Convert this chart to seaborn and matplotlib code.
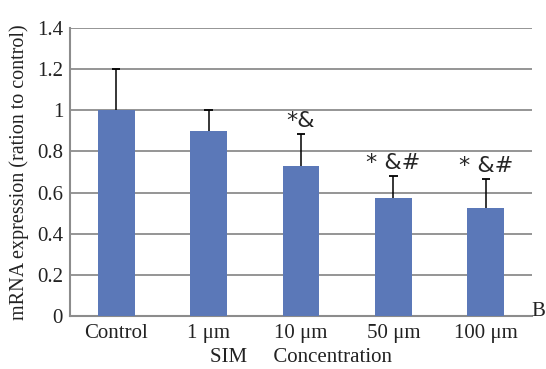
import matplotlib
matplotlib.use("Agg")
import matplotlib.pyplot as plt
import seaborn as sns
import pandas as pd

groups = ["Control", "1 μm", "10 μm", "50 μm", "100 μm"]
expression = [1.0, 0.90, 0.73, 0.575, 0.525]
errors = [0.20, 0.10, 0.155, 0.105, 0.14]
marks = ["", "", "*&", "* &#", "* &#"]

sns.set_style("white")
plt.rcParams['font.family'] = ['Liberation Serif', 'Noto Sans CJK SC']

df = pd.DataFrame({"group": groups, "value": expression})

fig = plt.figure(figsize=(5.46, 3.69), dpi=100)
ax = fig.add_axes([70 / 546, 1 - 316 / 369, 462 / 546, 288 / 369])

sns.barplot(data=df, x="group", y="value", color="#5b78b8", saturation=1,
            width=0.4, linewidth=0, ax=ax, zorder=3)

# upper error bars only, like the original
xs = list(range(len(groups)))
tops = [v + e for v, e in zip(expression, errors)]
ax.vlines(xs, expression, tops, color="black", linewidth=1.1, zorder=4)
ax.hlines(tops, [x - 0.045 for x in xs], [x + 0.045 for x in xs],
          color="black", linewidth=1.3, zorder=4)

# significance marks above the error bars
for i, (t, m) in enumerate(zip(tops, marks)):
    if m:
        ax.text(i, t + 0.015, m, ha="center", va="bottom", fontsize=16,
                family=['DejaVu Sans'])

ax.set_ylim(0, 1.4)
ax.set_yticks([0, 0.2, 0.4, 0.6, 0.8, 1.0, 1.2, 1.4])
ax.set_yticklabels(["0", "0.2", "0.4", "0.6", "0.8", "1", "1.2", "1.4"])
ax.set_xlim(-0.5, 4.5)
ax.yaxis.grid(True, color="#8c8c8c", linewidth=1.3, zorder=0)
ax.set_axisbelow(True)
ax.tick_params(axis="both", length=0, labelsize=15, pad=6, colors="#222222")
ax.tick_params(axis="y", pad=5)

for side in ["top", "right"]:
    ax.spines[side].set_visible(False)
for side in ["left", "bottom"]:
    ax.spines[side].set_color("#8c8c8c")
    ax.spines[side].set_linewidth(1.5)

ax.set_xlabel("SIM     Concentration", fontsize=15, labelpad=3, color="#222222")
ax.set_ylabel("mRNA expression (ration to control)", fontsize=14.5,
              labelpad=6, color="#222222")
fig.text(538 / 546, 1 - 311 / 369, "B", fontsize=15, ha="center",
         va="center", color="#222222")

fig.savefig("out.png", dpi=100)
